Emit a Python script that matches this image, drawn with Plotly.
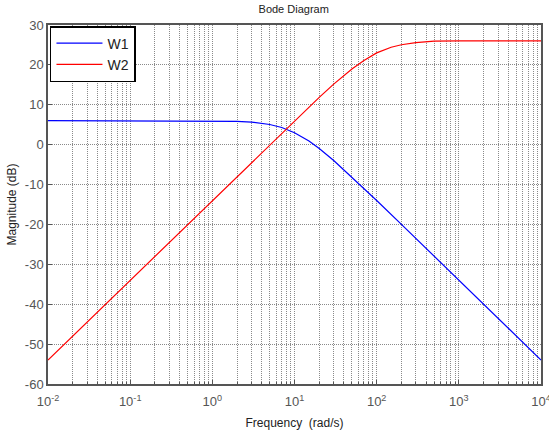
import plotly.graph_objects as go

freq_w1 = [0.01, 0.1, 1, 2, 3, 5, 7, 10, 15, 20, 30, 50, 70, 100, 200, 500, 1000, 2000, 5000, 10000]
mag_w1 = [6.02, 6.02, 5.98, 5.85, 5.65, 5.05, 4.3, 3.0, 0.9, -0.97, -3.98, -8.13, -10.9, -14.0,
          -19.98, -27.96, -33.98, -40.0, -47.96, -53.98]

freq_w2 = [0.01, 0.1, 1, 2, 3, 5, 7, 10, 20, 30, 50, 70, 100, 150, 200, 300, 500, 1000, 10000]
mag_w2 = [-53.98, -33.98, -13.98, -7.96, -4.44, 0.0, 2.92, 6.0, 11.87, 15.19, 18.99, 21.09,
          23.01, 24.43, 25.05, 25.56, 25.95, 26.0, 26.0]

x_tickvals = [0.01, 0.1, 1, 10, 100, 1000, 10000]
x_ticktext = ["10<sup>-2</sup>", "10<sup>-1</sup>", "10<sup>0</sup>", "10<sup>1</sup>",
              "10<sup>2</sup>", "10<sup>3</sup>", "10<sup>4</sup>"]
y_tickvals = [30, 20, 10, 0, -10, -20, -30, -40, -50, -60]
y_ticktext = ["30", "20", "10", "0", "-10", "-20", "-30", "-40", "-50", "-60"]

FONT = "Liberation Sans, Arial"
GRID = "#8a8a8a"

fig = go.Figure()
fig.add_trace(go.Scatter(x=freq_w1, y=mag_w1, mode="lines", name="W1",
                         line=dict(color="#0000ff", width=1.2)))
fig.add_trace(go.Scatter(x=freq_w2, y=mag_w2, mode="lines", name="W2",
                         line=dict(color="#ff0000", width=1.2)))

axis_common = dict(showline=True, linecolor="#555555", linewidth=1.5, mirror=True,
                   ticks="inside", ticklen=4, tickcolor="#555555",
                   showgrid=True, gridcolor=GRID, griddash="1px,1px", gridwidth=1,
                   zeroline=False, automargin=False, ticklabeloverflow="allow",
                   tickfont=dict(family=FONT, size=13, color="#555555"))

fig.update_xaxes(type="log", range=[-2, 4], tickvals=x_tickvals, ticktext=x_ticktext,
                 ticklabelstandoff=5,
                 minor=dict(dtick="D1", showgrid=True, gridcolor=GRID, griddash="1px,1px", gridwidth=1,
                            ticks="inside", ticklen=2, tickcolor="#555555"),
                 title=dict(text="Frequency  (rad/s)", standoff=14,
                            font=dict(family=FONT, size=12, color="#222222")),
                 **axis_common)
fig.update_yaxes(range=[-60, 30], tickvals=y_tickvals, ticktext=y_ticktext,
                 title=dict(text="Magnitude (dB)", standoff=6,
                            font=dict(family=FONT, size=12, color="#222222")),
                 **axis_common)

fig.update_layout(
    width=549, height=430,
    margin=dict(l=48, r=8, t=25, b=46),
    paper_bgcolor="white", plot_bgcolor="white",
    title=dict(text="Bode Diagram", x=0.535, xanchor="center", y=0.979, yanchor="middle",
               font=dict(family=FONT, size=11, color="#222222")),
    showlegend=True,
    legend=dict(x=0.004, y=0.997, xanchor="left", yanchor="top",
                bgcolor="white", bordercolor="black", borderwidth=1.5,
                itemwidth=46,
                font=dict(family=FONT, size=14, color="#222222"),
                tracegroupgap=0),
)

fig.write_html("out.html")
